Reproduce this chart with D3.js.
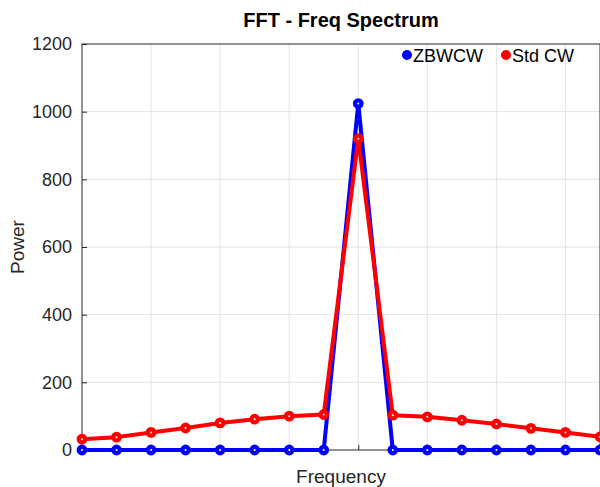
<!DOCTYPE html>
<html>
<head>
<meta charset="utf-8">
<script src="https://cdn.jsdelivr.net/npm/d3@7"></script>
<style>
  body { margin: 0; background: #fff; }
  text { font-family: "Liberation Sans", Arial, sans-serif; fill: #262626; }
</style>
</head>
<body>
<div id="chart"></div>
<script>
var bins = d3.range(16);
var zbwcw = [0, 0, 0, 0, 0, 0, 0, 0, 1024, 0, 0, 0, 0, 0, 0, 0];
var stdcw = [32, 38, 52, 65, 80, 91, 100, 105, 920, 103, 98, 88, 77, 64, 52, 39];
var yTicks = [0, 200, 400, 600, 800, 1000, 1200];
var xTicks = [0, 2, 4, 6, 8, 10, 12, 14];
var seriesNames = ['ZBWCW', 'Std CW'];
var seriesColors = ['#0000ff', '#ff0000'];

var width = 600, height = 487;
var margin = {top: 44, right: 0, bottom: 37, left: 82};

var svg = d3.select('#chart').append('svg')
  .attr('width', width)
  .attr('height', height);

var x = d3.scaleLinear().domain([0, 15]).range([margin.left, width - margin.right]);
var y = d3.scaleLinear().domain([0, 1200]).range([height - margin.bottom, margin.top]);

// grid
svg.append('g').selectAll('line.gx')
  .data(xTicks.filter(function(d) { return d > 0; }))
  .enter().append('line')
  .attr('x1', function(d) { return x(d); })
  .attr('x2', function(d) { return x(d); })
  .attr('y1', y(0)).attr('y2', y(1200))
  .attr('stroke', '#e3e3e3').attr('stroke-width', 1);
svg.append('g').selectAll('line.gy')
  .data(yTicks.filter(function(d) { return d > 0 && d < 1200; }))
  .enter().append('line')
  .attr('x1', x(0)).attr('x2', x(15))
  .attr('y1', function(d) { return y(d); })
  .attr('y2', function(d) { return y(d); })
  .attr('stroke', '#e3e3e3').attr('stroke-width', 1);

// box
svg.append('rect')
  .attr('x', x(0)).attr('y', y(1200))
  .attr('width', x(15) - x(0)).attr('height', y(0) - y(1200))
  .attr('fill', 'none').attr('stroke', '#262626').attr('stroke-width', 1);

// y axis
var yAxis = d3.axisLeft(y).tickValues(yTicks).tickSize(-5).tickPadding(10).tickFormat(d3.format('d'));
var gy = svg.append('g').attr('transform', 'translate(' + x(0) + ',0)').call(yAxis);
gy.select('.domain').remove();
gy.selectAll('line').attr('stroke', '#262626');
gy.selectAll('text').style('font-size', '18px').style('fill', '#262626')
  .style('font-family', '"Liberation Sans", Arial, sans-serif');

// x axis, ticks only
var xAxis = d3.axisBottom(x).tickValues(xTicks).tickSize(-5).tickFormat('');
var gx = svg.append('g').attr('transform', 'translate(0,' + y(0) + ')').call(xAxis);
gx.select('.domain').remove();
gx.selectAll('line').attr('stroke', '#262626');

// lines
var series = [zbwcw, stdcw];
var line = d3.line()
  .x(function(d, i) { return x(bins[i]); })
  .y(function(d) { return y(d); });

series.forEach(function(vals, k) {
  var g = svg.append('g');
  g.append('path')
    .datum(vals)
    .attr('d', line)
    .attr('fill', 'none')
    .attr('stroke', seriesColors[k])
    .attr('stroke-width', 4)
    .attr('stroke-linejoin', 'round');
  g.selectAll('circle')
    .data(vals)
    .enter().append('circle')
    .attr('cx', function(d, i) { return x(bins[i]); })
    .attr('cy', function(d) { return y(d); })
    .attr('r', 3.2)
    .attr('fill', '#fff')
    .attr('stroke', seriesColors[k])
    .attr('stroke-width', 4.4);
});

// title and labels
svg.append('text')
  .attr('x', (x(0) + x(15)) / 2).attr('y', 27)
  .attr('text-anchor', 'middle')
  .style('font-size', '20px').style('font-weight', 'bold')
  .style('fill', '#000')
  .text('FFT - Freq Spectrum');

svg.append('text')
  .attr('x', (x(0) + x(15)) / 2).attr('y', 483)
  .attr('text-anchor', 'middle')
  .style('font-size', '19px')
  .text('Frequency');

svg.append('text')
  .attr('transform', 'translate(24,' + (y(0) + y(1200)) / 2 + ') rotate(-90)')
  .attr('text-anchor', 'middle')
  .style('font-size', '19px')
  .text('Power');

// legend
var legendX = [407, 506];
seriesNames.forEach(function(name, k) {
  var lg = svg.append('g').attr('transform', 'translate(' + legendX[k] + ',55)');
  lg.append('circle').attr('r', 3.5)
    .attr('fill', seriesColors[k])
    .attr('stroke', seriesColors[k]).attr('stroke-width', 3);
  lg.append('text').attr('x', 6).attr('y', 6.5)
    .style('font-size', '18px').style('fill', '#000')
    .text(name);
});
</script>
</body>
</html>
